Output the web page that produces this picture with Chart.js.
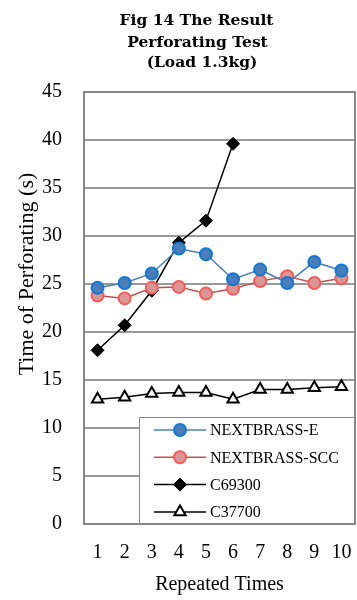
<!DOCTYPE html>
<html>
<head>
<meta charset="utf-8">
<script src="https://cdn.jsdelivr.net/npm/chart.js@4"></script>
<style>
  html, body { margin: 0; padding: 0; background: #fff; overflow: hidden; }
  #wrap { width: 357px; height: 600px; position: relative; }
</style>
</head>
<body>
<div id="wrap"><canvas id="perfChart"></canvas></div>
<script>
const repeatLabels = ["1", "2", "3", "4", "5", "6", "7", "8", "9", "10"];
const nextbrassE = [24.6, 25.1, 26.1, 28.7, 28.1, 25.5, 26.5, 25.1, 27.3, 26.4];
const nextbrassSCC = [23.8, 23.5, 24.6, 24.7, 24.0, 24.5, 25.3, 25.8, 25.1, 25.6];
const c69300 = [18.1, 20.7, 24.3, 29.3, 31.6, 39.6, null, null, null, null];
const c37700 = [13.0, 13.2, 13.6, 13.7, 13.7, 13.0, 14.0, 14.0, 14.2, 14.3];
const titleLines = ["Fig 14 The Result", "Perforating Test", "(Load 1.3kg)"];
const yTitle = "Time of Perforating (s)";

const serif = "'Liberation Serif', 'Times New Roman', serif";

// title + y title drawn by hand, both sit off-centre in the original
const textPlugin = {
  id: "extraText",
  afterDraw(chart) {
    const ctx = chart.ctx;
    ctx.save();
    ctx.fillStyle = "#000";
    ctx.font = "bold 15.5px 'DejaVu Serif', serif";
    ctx.textAlign = "center";
    ctx.textBaseline = "alphabetic";
    ctx.fillText(titleLines[0], 196.5, 25);
    ctx.fillText(titleLines[1], 197.5, 46.5);
    ctx.fillText(titleLines[2], 202, 67);

    ctx.font = "22px " + serif;
    ctx.textBaseline = "middle";
    ctx.translate(27, 274);
    ctx.rotate(-Math.PI / 2);
    ctx.fillText(yTitle, 0, 0);
    ctx.restore();
  }
};

// legend box inside the plot, bottom right
const boxLegend = {
  id: "boxLegend",
  afterDatasetsDraw(chart) {
    const ctx = chart.ctx;
    const area = chart.chartArea;
    const x0 = 139, y0 = 417, x1 = area.right, y1 = area.bottom;
    ctx.save();
    ctx.fillStyle = "#fff";
    ctx.fillRect(x0, y0, x1 - x0, y1 - y0);
    ctx.strokeStyle = "#888";
    ctx.lineWidth = 1;
    ctx.strokeRect(x0 + 0.5, y0 + 0.5, x1 - x0 - 1, y1 - y0 - 1);
    ctx.font = "16px " + serif;
    ctx.textBaseline = "middle";
    ctx.textAlign = "left";
    chart.data.datasets.forEach((ds, i) => {
      const y = 430 + i * 27.3;
      ctx.strokeStyle = ds.borderColor;
      ctx.lineWidth = ds.borderWidth;
      ctx.beginPath();
      ctx.moveTo(154, y);
      ctx.lineTo(206, y);
      ctx.stroke();
      ctx.fillStyle = ds.pointBackgroundColor;
      ctx.strokeStyle = ds.pointBorderColor;
      ctx.lineWidth = ds.pointBorderWidth;
      Chart.helpers.drawPoint(ctx, {
        pointStyle: ds.pointStyle,
        radius: ds.pointRadius,
        borderWidth: ds.pointBorderWidth
      }, 180, y);
      ctx.fillStyle = "#000";
      ctx.fillText(ds.label, 210, y + 1);
    });
    ctx.restore();
  }
};

const framePlugin = {
  id: "frame",
  afterDraw(chart) {
    const a = chart.chartArea, ctx = chart.ctx;
    ctx.save();
    ctx.strokeStyle = "#888";
    ctx.lineWidth = 2;
    ctx.beginPath();
    ctx.moveTo(a.left, a.top);
    ctx.lineTo(a.right, a.top);
    ctx.lineTo(a.right, a.bottom);
    ctx.stroke();
    ctx.restore();
  }
};

new Chart(document.getElementById("perfChart"), {
  type: "line",
  data: {
    labels: repeatLabels,
    datasets: [
      {
        label: "NEXTBRASS-E",
        data: nextbrassE,
        borderColor: "#4a7ebb",
        borderWidth: 1.5,
        pointStyle: "circle",
        pointRadius: 6,
        pointBackgroundColor: "#4a7ebb",
        pointBorderColor: "#1478d2",
        pointBorderWidth: 2,
        tension: 0
      },
      {
        label: "NEXTBRASS-SCC",
        data: nextbrassSCC,
        borderColor: "#c0504d",
        borderWidth: 1.5,
        pointStyle: "circle",
        pointRadius: 6,
        pointBackgroundColor: "#d99694",
        pointBorderColor: "#f65c5c",
        pointBorderWidth: 2,
        tension: 0
      },
      {
        label: "C69300",
        data: c69300,
        borderColor: "#000",
        borderWidth: 1.5,
        pointStyle: "rectRot",
        pointRadius: 6.5,
        pointBackgroundColor: "#000",
        pointBorderColor: "#000",
        pointBorderWidth: 1,
        tension: 0
      },
      {
        label: "C37700",
        data: c37700,
        borderColor: "#000",
        borderWidth: 1.5,
        pointStyle: "triangle",
        pointRadius: 6.5,
        pointBackgroundColor: "#fff",
        pointBorderColor: "#000",
        pointBorderWidth: 2,
        tension: 0
      }
    ]
  },
  options: {
    responsive: true,
    maintainAspectRatio: false,
    animation: false,
    // autoPadding off, otherwise the point radius widens the right margin
    layout: { autoPadding: false, padding: { top: 92, right: 2, left: 0, bottom: 0 } },
    plugins: {
      legend: { display: false },
      title: { display: false },
      tooltip: { enabled: false }
    },
    scales: {
      x: {
        offset: true,
        grid: { display: true, drawOnChartArea: false, drawTicks: true, tickLength: 17, tickColor: "rgba(0,0,0,0)", color: "rgba(0,0,0,0)" },
        border: { color: "#888", width: 2 },
        ticks: { color: "#000", font: { family: serif, size: 20 }, padding: 0 },
        title: { display: true, text: "Repeated Times", color: "#000", font: { family: serif, size: 20 }, padding: { top: 0, bottom: 3 } },
        afterFit(scale) {
          scale.height = 76;
          scale.paddingLeft = 0;
          scale.paddingRight = 0;
        }
      },
      y: {
        min: 0,
        max: 45,
        ticks: { stepSize: 5, color: "#000", font: { family: serif, size: 20 }, padding: 22 },
        grid: { color: "#999", lineWidth: 2, drawTicks: false },
        border: { color: "#888", width: 2 },
        afterFit(scale) { scale.width = 84; }
      }
    }
  },
  plugins: [textPlugin, boxLegend, framePlugin]
});
</script>
</body>
</html>
